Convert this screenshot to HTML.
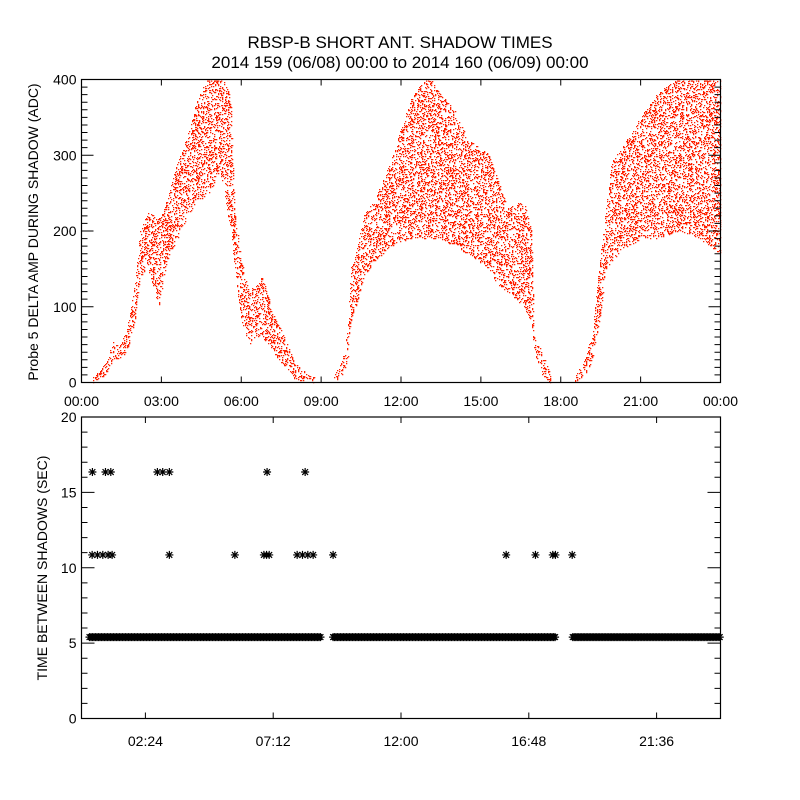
<!DOCTYPE html>
<html><head><meta charset="utf-8">
<style>
body{margin:0;background:#fff;}
svg{display:block;font-family:"Liberation Sans",sans-serif;}
text{fill:#000;}
</style></head>
<body>
<svg id="chart" width="800" height="800" viewBox="0 0 800 800">
<rect x="0" y="0" width="800" height="800" fill="#fff"/>
<text x="400" y="48" text-anchor="middle" font-size="17">RBSP-B SHORT ANT. SHADOW TIMES</text>
<text x="400" y="68" text-anchor="middle" font-size="17">2014 159 (06/08) 00:00 to 2014 160 (06/09) 00:00</text>
<g id="topPanel"></g>
<g id="botPanel"></g>
<text transform="translate(38,232) rotate(-90)" text-anchor="middle" font-size="14">Probe 5 DELTA AMP DURING SHADOW (ADC)</text>
<text transform="translate(47,568) rotate(-90)" text-anchor="middle" font-size="14">TIME BETWEEN SHADOWS (SEC)</text>
</svg>
<script>
// top panel envelope data: hour, low, high (ADC)
const seg1Hours=[0.4,0.8,1.2,1.4,1.7,2.0,2.2,2.5,2.9,3.2,3.6,4.0,4.4,4.8,5.2,5.6,5.75,6.0,6.3,6.6,6.8,7.2,7.6,8.0,8.5,8.8];
const seg1Low=[0,5,30,30,40,80,140,150,100,160,190,220,240,250,280,200,150,80,50,60,60,40,20,5,0,0];
const seg1High=[5,20,55,45,70,130,200,225,215,240,290,330,380,405,405,380,230,160,120,130,140,90,60,25,10,5];
const seg2Hours=[9.45,9.8,10.0,10.1,10.3,10.6,11.0,11.6,12.3,13.0,13.5,14.0,14.5,15.3,15.6,16.0,16.6,16.9,17.0,17.3,17.6];
const seg2Low=[0,10,30,80,100,140,160,180,190,190,190,180,170,150,130,120,100,80,40,10,0];
const seg2High=[5,30,70,150,170,220,240,290,370,405,380,360,320,300,270,230,240,200,60,40,10];
const seg3Hours=[18.5,18.9,19.2,19.45,19.7,19.9,20.3,21.0,21.6,22.5,23.2,24.0];
const seg3Low=[0,10,30,80,150,160,175,190,190,200,190,170];
const seg3High=[5,30,70,160,230,290,310,350,380,405,405,400];
const topYTicks=[0,100,200,300,400];
const topXTicks=["00:00","03:00","06:00","09:00","12:00","15:00","18:00","21:00","00:00"];
// bottom panel data
const bandSegments=[[0.3,9.0],[9.45,17.8],[18.45,24.0]];
const bandValue=5.4;
const mid10Hours=[0.4,0.6,0.8,1.0,1.15,3.3,5.76,6.85,6.95,7.05,8.1,8.3,8.5,8.7,9.45,15.95,17.05,17.7,17.8,18.43];
const mid10Value=10.85;
const high16Hours=[0.41,0.9,1.1,2.85,3.05,3.3,6.97,8.4];
const high16Value=16.35;
const botYTicks=[0,5,10,15,20];
const botXTicks=["02:24","07:12","12:00","16:48","21:36"];

const NS="http://www.w3.org/2000/svg";
const X0=81.5,X1=720.5;
const T0=79.5,T1=382.5,B0=417,B1=718.5;
function xs(h){return X0+h/24*(X1-X0);}
function yt(v){return T1-v/400*(T1-T0);}
function yb(v){return B1-v/20*(B1-B0);}
function mk(tag,attrs,parent){const e=document.createElementNS(NS,tag);for(const k in attrs)e.setAttribute(k,attrs[k]);parent.appendChild(e);return e;}
const topG=document.getElementById('topPanel'),botG=document.getElementById('botPanel');

function interp(hs,arr,h){for(let i=0;i<hs.length-1;i++){if(h>=hs[i]&&h<=hs[i+1]){const t=(h-hs[i])/(hs[i+1]-hs[i]);return arr[i]+t*(arr[i+1]-arr[i]);}}return null;}
function hash(a,b){let v=Math.sin(a*12.9898+b*78.233)*43758.5453;return v-Math.floor(v);}
let path="";
function drawSeg(hs,lo,hi){
  const xa=Math.ceil(xs(hs[0])),xb=xs(hs[hs.length-1]);
  for(let x=xa;x<=xb;x+=1){
    const h=(x-X0)/(X1-X0)*24;
    const l=interp(hs,lo,h),u=interp(hs,hi,h);if(l===null)continue;
    const ya=yt(Math.min(u,400)),yz=yt(l);
    for(let y=Math.floor(ya);y<=yz;y+=1){
      if(hash(x,y)<0.24){const yy=Math.max(T0+1,y);path+="M"+x+" "+yy+"h1.3v1.2h-1.3z";}
    }
  }
}
drawSeg(seg1Hours,seg1Low,seg1High);
drawSeg(seg2Hours,seg2Low,seg2High);
drawSeg(seg3Hours,seg3Low,seg3High);
const dots=mk('path',{d:path,fill:'#ff2000'},topG);



const tf=mk('rect',{x:X0,y:T0,width:X1-X0,height:T1-T0,fill:'none',stroke:'#000','stroke-width':1.2},topG);


let tk="";
for(let v=0;v<=400;v+=10){const y=yt(v);const L=(v%100===0)?12:6;tk+=`M${X0} ${y}h${L}M${X1} ${y}h${-L}`;}
for(let i=0;i<topXTicks.length;i++){const x=xs(i*3);tk+=`M${x} ${T1}v-6M${x} ${T0}v6`;}
const tt=mk('path',{d:tk,stroke:'#000','stroke-width':1,fill:'none'},topG);


topYTicks.forEach(v=>{const t=mk('text',{x:X0-5,y:yt(v)+5,'text-anchor':'end','font-size':14},topG);t.textContent=v;

});
topXTicks.forEach((s,i)=>{const t=mk('text',{x:xs(i*3),y:406,'text-anchor':'middle','font-size':14},topG);t.textContent=s;

});

function star(x,y,p){const r=4,d=2.9;p.s+=`M${x-r} ${y}h${2*r}M${x} ${y-r}v${2*r}M${x-d} ${y-d}l${2*d} ${2*d}M${x-d} ${y+d}l${2*d} ${-2*d}`;}
const st={s:""};
bandSegments.forEach(sg=>{const y=yb(bandValue);const xa=xs(sg[0]),xb=xs(sg[1]);for(let x=xa;x<=xb;x+=1.5)star(x,y,st);});
mid10Hours.forEach(h=>star(xs(h),yb(mid10Value),st));
high16Hours.forEach(h=>star(xs(h),yb(high16Value),st));
const sp=mk('path',{d:st.s,stroke:'#000','stroke-width':1.2,fill:'none'},botG);



const bf=mk('rect',{x:X0,y:B0,width:X1-X0,height:B1-B0,fill:'none',stroke:'#000','stroke-width':1.2},botG);


let bk="";
for(let v=0;v<=20;v+=1){const y=yb(v);const L=(v%5===0)?13:6;bk+=`M${X0} ${y}h${L}M${X1} ${y}h${-L}`;}
for(let i=0;i<botXTicks.length;i++){const x=xs(2.4+i*4.8);bk+=`M${x} ${B1}v-6M${x} ${B0}v6`;}
const bt=mk('path',{d:bk,stroke:'#000','stroke-width':1,fill:'none'},botG);


botYTicks.forEach(v=>{const t=mk('text',{x:X0-5,y:yb(v)+5,'text-anchor':'end','font-size':14},botG);t.textContent=v;

});
botXTicks.forEach((s,i)=>{const t=mk('text',{x:xs(2.4+i*4.8),y:746,'text-anchor':'middle','font-size':14},botG);t.textContent=s;

});
</script>
</body></html>
